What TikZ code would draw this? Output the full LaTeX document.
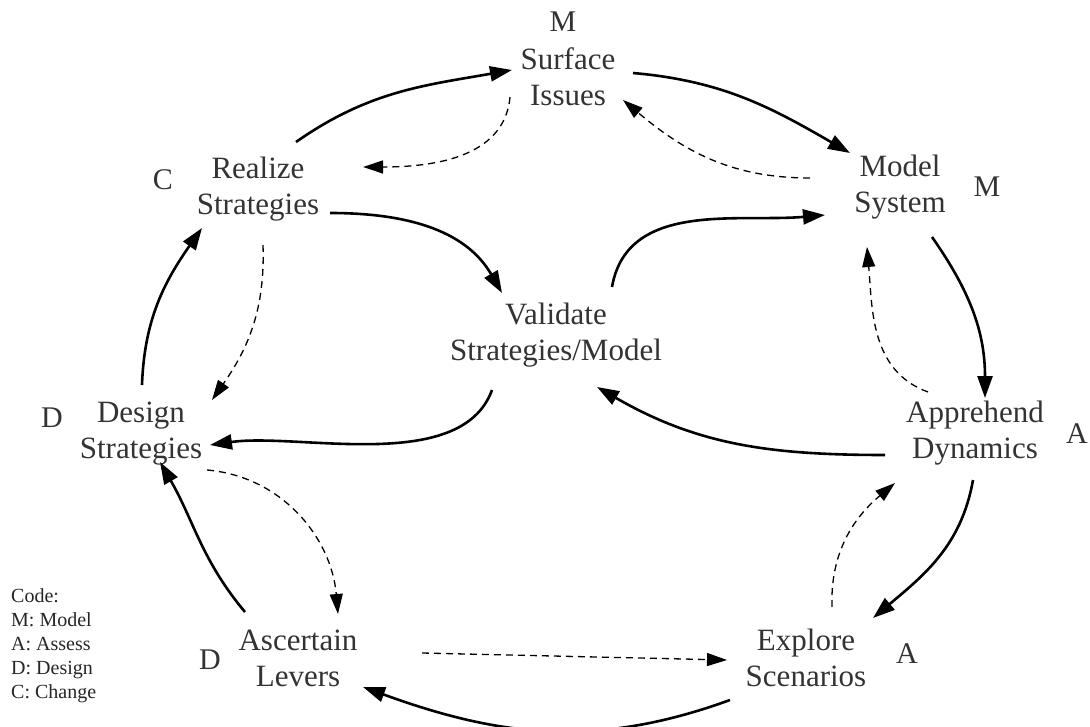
\documentclass[tikz,border=0pt]{standalone}
\usepackage{fontspec}
\setmainfont{Liberation Serif}
\usetikzlibrary{arrows.meta,calc}
\begin{document}
\begin{tikzpicture}[x=1pt,y=-1pt,
  concept/.style={align=center,inner sep=0pt,anchor=base,text=black!80,font=\fontsize{31}{36}\selectfont},
  tag/.style={inner sep=0pt,anchor=base,text=black!80,font=\fontsize{30}{36}\selectfont},
  legend/.style={align=left,inner sep=0pt,anchor=base west,text=black!85,font=\fontsize{20}{24}\selectfont},
  sa/.style={line width=2.6pt,-{Triangle[length=22pt,width=15pt]}},
  da/.style={line width=1.3pt,dash pattern=on 7pt off 5pt,-{Triangle[length=20pt,width=13pt]}}]
\useasboundingbox[fill=white] (0,0) rectangle (1090,727);
% concepts (placed at the baseline of their last line)
\node[concept] (si) at (568,106) {Surface\\Issues};
\node[concept] (ms) at (900,213) {Model\\System};
\node[concept] (rs) at (258,215) {Realize\\Strategies};
\node[concept] (vs) at (556,361) {Validate\\Strategies/Model};
\node[concept] (ds) at (141,458) {Design\\Strategies};
\node[concept] (ad) at (975,458) {Apprehend\\Dynamics};
\node[concept] (al) at (298,686) {Ascertain\\Levers};
\node[concept] (es) at (806,686) {Explore\\Scenarios};
% code letters
\node[tag] (tsi) at (563,32) {M};
\node[tag] (tms) at (987,197) {M};
\node[tag] (trs) at (163,190) {C};
\node[tag] (tds) at (52,427) {D};
\node[tag] (tad) at (1077,443) {A};
\node[tag] (tal) at (210,669) {D};
\node[tag] (tes) at (907,663) {A};
% legend
\node[legend] (code) at (11,698) {Code:\\M: Model\\A: Assess\\D: Design\\C: Change};
% solid cycle
\draw[sa] ($(rs.base)+(38,-73)$) to[out=35,in=190] ($(si.base)+(-56,-36)$);
\draw[sa] ($(si.base)+(65,-33)$) to[out=-5,in=150] ($(ms.base)+(-50,-60)$);
\draw[sa] ($(ms.base)+(32,24)$) to[out=-55,in=90] ($(ad.base)+(10,-60)$);
\draw[sa] ($(ad.base)+(-2,22)$) to[out=-100,in=40] ($(es.base)+(67,-68)$);
\draw[sa] ($(es.base)+(-76,14)$) to[out=200,in=-20] ($(al.base)+(65,1)$);
\draw[sa] ($(al.base)+(-53,-74)$) to[out=130,in=-60] ($(ds.base)+(19,4)$);
\draw[sa] ($(ds.base)+(1,-73)$) to[out=88,in=235] ($(rs.base)+(-56,13)$);
% solid through the centre
\draw[sa] ($(rs.base)+(72,-2)$) to[out=0,in=120] ($(vs.base)+(-54,-68)$);
\draw[sa] ($(vs.base)+(56,-74)$) to[out=80,in=185] ($(ms.base)+(-75,2)$);
\draw[sa] ($(ad.base)+(-90,-3)$) to[out=180,in=-30] ($(vs.base)+(41,26)$);
\draw[sa] ($(vs.base)+(-64,29)$) to[out=-110,in=8,looseness=0.8] ($(ds.base)+(69,-13)$);
% dashed
\draw[da] ($(si.base)+(-58,-9)$) to[out=-95,in=0] ($(rs.base)+(105,-48)$);
\draw[da] ($(ms.base)+(-90,-35)$) to[out=180,in=-40] ($(si.base)+(55,-6)$);
\draw[da] ($(ad.base)+(-47,-66)$) to[out=160,in=-85] ($(ms.base)+(-33,34)$);
\draw[da] ($(es.base)+(26,-79)$) to[out=92,in=220] ($(ad.base)+(-80,25)$);
\draw[da] ($(al.base)+(124,-33)$) -- ($(es.base)+(-79,-26)$);
\draw[da] ($(ds.base)+(66,12)$) to[out=-5,in=95] ($(al.base)+(40,-72)$);
\draw[da] ($(rs.base)+(5,30)$) to[out=-88,in=55] ($(ds.base)+(71,-58)$);
\end{tikzpicture}
\end{document}
